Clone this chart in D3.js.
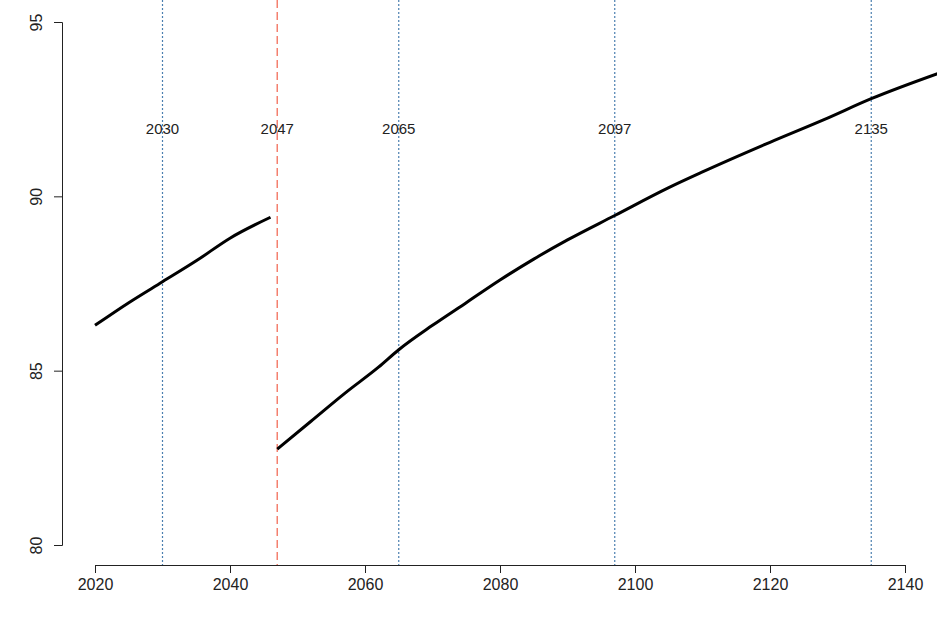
<!DOCTYPE html>
<html><head><meta charset="utf-8">
<script src="https://cdn.jsdelivr.net/npm/d3@7"></script>
<style>body{margin:0;background:#fff} text{font-family:"Liberation Sans",Arial,sans-serif}</style>
</head><body>
<svg id="chart" width="937" height="621"></svg>
<script>
// values
let years1 = [2020, 2025, 2030, 2035, 2040, 2046];
let vals1 = [86.3, 86.95, 87.55, 88.15, 88.8, 89.4];
let years2 = [2047, 2052, 2057, 2062, 2065, 2070, 2075, 2080, 2085, 2090, 2097, 2105, 2110, 2120, 2128, 2135, 2146];
let vals2 = [82.75, 83.55, 84.35, 85.1, 85.6, 86.3, 86.95, 87.6, 88.2, 88.75, 89.45, 90.25, 90.7, 91.55, 92.2, 92.8, 93.6];
let markYears = [2030, 2047, 2065, 2097, 2135];
let xTicks = [2020, 2040, 2060, 2080, 2100, 2120, 2140];
let yTicks = [80, 85, 90, 95];

let svg = d3.select("svg#chart");
let xScale = d3.scaleLinear().domain([2020, 2140]).range([95, 905]);
let yScale = d3.scaleLinear().domain([80, 95]).range([545, 22]);

svg.append("defs").append("clipPath").attr("id", "clip")
  .append("rect").attr("x", 0).attr("y", 0).attr("width", 937).attr("height", 565);

let g = svg.append("g").attr("clip-path", "url(#clip)");

for (let i = 0; i < markYears.length; i++) {
  let y = markYears[i];
  let red = y == 2047;
  g.append("line")
    .attr("x1", xScale(y)).attr("x2", xScale(y))
    .attr("y1", 0).attr("y2", 565)
    .attr("stroke", red ? "#f4806f" : "#4a7fb0")
    .attr("stroke-width", red ? 1.5 : 1.2)
    .attr("stroke-dasharray", red ? "8,4" : "2,2");
  svg.append("text")
    .attr("x", xScale(y)).attr("y", 134)
    .attr("text-anchor", "middle")
    .style("font-size", "15px").attr("fill", "#222")
    .text(y);
}

let line = d3.line()
  .x(d => xScale(d[0])).y(d => yScale(d[1]))
  .curve(d3.curveMonotoneX);

g.append("path").datum(d3.zip(years1, vals1)).attr("d", line)
  .attr("fill", "none").attr("stroke", "black").attr("stroke-width", 3);
g.append("path").datum(d3.zip(years2, vals2)).attr("d", line)
  .attr("fill", "none").attr("stroke", "black").attr("stroke-width", 3);

let xAxis = svg.append("g").attr("transform", "translate(0,565)")
  .call(d3.axisBottom(xScale).tickValues(xTicks).tickSize(8).tickFormat(d3.format("d")));
xAxis.selectAll("text").style("font-size", "16px").attr("y", 14).attr("dy", "0.71em").attr("fill", "#222");

let yAxis = svg.append("g").attr("transform", "translate(62,0)")
  .call(d3.axisLeft(yScale).tickValues(yTicks).tickSize(8));
yAxis.selectAll("text").style("font-size", "16px").attr("fill", "#222")
  .attr("x", 0).attr("y", 0).attr("dy", 0)
  .attr("text-anchor", "middle")
  .attr("transform", "translate(-20,0) rotate(-90)");
svg.selectAll(".domain").attr("stroke", "#222");
svg.selectAll(".tick line").attr("stroke", "#222");
</script>
</body></html>
